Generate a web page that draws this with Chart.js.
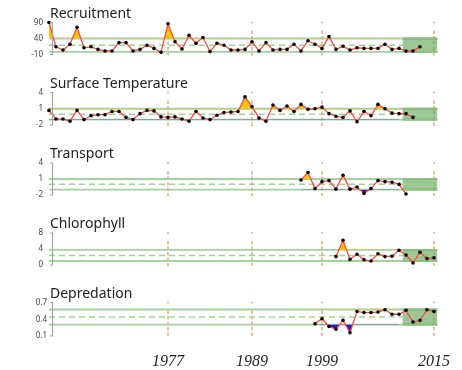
<!DOCTYPE html>
<html>
<head>
<meta charset="utf-8">
<script src="https://cdn.jsdelivr.net/npm/chart.js@4.4.1/dist/chart.umd.min.js"></script>
<style>
  body { margin: 0; background: #fff; }
  #wrap { position: relative; width: 462px; height: 370px; }
  #wrap canvas { position: absolute; left: 0; top: 0; }
</style>
</head>
<body>
<div id="wrap"></div>
<script>
// yearly indicator series, each with its own first year
const recruitmentStart = 1960;
const recruitment = [90, 14, 4, 22, 75, 11, 14, 6, 1, 1, 27, 27, 1, 6, 19, 9, -3, 86, 30, 7,
  50, 25, 43, -1, 25, 19, 4, 4, 6, 30, 1, 27, 4, 6, 6, 22, 1, 33, 22, 9,
  46, 6, 16, 4, 11, 9, 9, 9, 22, 6, 9, 1, 1, 14];

const temperatureStart = 1960;
const temperature = [0.7, -0.9, -0.9, -1.3, 0.7, -1.0, -0.3, -0.1, -0.1, 0.5, 0.5, -0.6, -1.0, 0.1, 0.7, 0.6, -0.5, -0.6, -0.5, -0.9,
  -1.3, 0.5, -0.7, -1.0, -0.2, 0.3, 0.4, 0.5, 3.2, 1.4, -0.7, -1.3, 1.7, 0.7, 1.5, 0.5, 1.8, 0.9, 1.0, 1.3,
  0.1, -0.4, -0.6, 0.6, -1.4, 0.5, -0.3, 1.8, 1.0, 0.2, 0.1, 0.1, -0.6];

const transportStart = 1996;
const transport = [0.8, 2.2, -0.8, 0.5, 0.7, -0.9, 1.7, -0.9, -0.5, -1.7, -0.8, 0.7, 0.5, 0.4, 0.0, -1.8];

const chlorophyllStart = 2001;
const chlorophyll = [2.1, 6.2, 1.4, 2.7, 1.3, 1.0, 2.8, 2.1, 2.2, 3.7, 2.5, 0.5, 3.2, 1.6, 1.8];

const depredationStart = 1998;
const depredation = [0.32, 0.41, 0.27, 0.22, 0.38, 0.16, 0.54, 0.52, 0.52, 0.53, 0.57, 0.49, 0.49, 0.56, 0.35, 0.38, 0.57, 0.54];

const titles = ['Recruitment', 'Surface Temperature', 'Transport', 'Chlorophyll', 'Depredation'];
const starts = [recruitmentStart, temperatureStart, transportStart, chlorophyllStart, depredationStart];
const series = [recruitment, temperature, transport, chlorophyll, depredation];
const yTicks = [[-10, 40, 90], [-2, 1, 4], [-2, 1, 4], [0, 4, 8], [0.1, 0.4, 0.7]];
const bandMean = [19, 0, 0, 2.4, 0.44];
const bandSd = [21, 1, 1, 1.4, 0.135];
const yearMarks = [1977, 1989, 1999, 2015];
const firstYear = 1960;
const lastYear = 2015.5;
const recentFrom = 2010.5;

// layout of the stacked panels
const W = 462, H = 370;
const plotLeft = 49, plotRight = 437.5;
const panelTop = [22.5, 92.5, 163, 233, 302.5];
const panelBottom = [54.5, 125, 195, 265, 336];
const labelPad = [6, 6, 6, 6, 2];
const yearLabelY = 366;

const tan = 'rgba(212,168,112,0.9)';

const panelDecor = {
  id: 'panelDecor',
  beforeDatasetsDraw(chart) {
    const { ctx, chartArea: a, scales: { x } } = chart;
    ctx.save();
    ctx.strokeStyle = tan;
    ctx.fillStyle = tan;
    ctx.lineWidth = 1.5;
    yearMarks.forEach(yr => {
      const px = x.getPixelForValue(yr);
      ctx.fillRect(px - 0.8, a.top - 0.8, 1.6, 1.6);
      ctx.setLineDash([3.5, 2]);
      ctx.beginPath();
      ctx.moveTo(px, a.top + 8);
      ctx.lineTo(px, a.bottom + 1);
      ctx.stroke();
    });
    ctx.restore();
  },
  afterDraw(chart, args, opts) {
    const { ctx, chartArea: a, scales: { x } } = chart;
    ctx.save();
    // bracket-style y axis
    ctx.strokeStyle = '#a3a3a3';
    ctx.lineWidth = 1.2;
    const bx = a.left + 3.5;
    ctx.beginPath();
    ctx.moveTo(bx - 2.5, a.top);
    ctx.lineTo(bx, a.top);
    ctx.lineTo(bx, a.bottom);
    ctx.lineTo(bx - 2.5, a.bottom);
    ctx.stroke();
    // panel title
    ctx.fillStyle = '#222';
    ctx.font = '14px "Noto Sans"';
    ctx.textBaseline = 'alphabetic';
    ctx.textAlign = 'left';
    ctx.fillText(opts.text, a.left + 1, a.top - 5);
    // year labels under the bottom panel
    if (opts.years) {
      ctx.font = 'italic 16px "Liberation Serif", "Times New Roman", serif';
      ctx.textAlign = 'center';
      yearMarks.forEach(yr => {
        ctx.fillText(String(yr), x.getPixelForValue(yr), yearLabelY);
      });
    }
    ctx.restore();
  }
};

function toPoints(start, values) {
  return values.map((v, k) => ({ x: start + k, y: v }));
}

function flat(x0, x1, y) {
  return [{ x: x0, y: y }, { x: x1, y: y }];
}

const wrap = document.getElementById('wrap');

titles.forEach((title, i) => {
  const canvas = document.createElement('canvas');
  canvas.width = W;
  canvas.height = H;
  wrap.appendChild(canvas);

  const mean = bandMean[i];
  const hi = mean + bandSd[i];
  const lo = mean - bandSd[i];
  const pts = toPoints(starts[i], series[i]);
  const fillPts = pts.filter(p => p.x < recentFrom);

  new Chart(canvas.getContext('2d'), {
    type: 'line',
    data: {
      datasets: [
        {
          data: pts,
          borderColor: '#ff4646',
          borderWidth: 1.3,
          pointRadius: 1.8,
          pointBackgroundColor: '#000',
          pointBorderWidth: 0,
          fill: false,
          clip: false,
          order: 0
        },
        {
          data: fillPts,
          borderColor: 'transparent',
          borderWidth: 0,
          pointRadius: 0,
          fill: { target: { value: hi }, above: '#ffc400', below: 'rgba(0,0,0,0)' },
          order: 1
        },
        {
          data: fillPts,
          borderColor: 'transparent',
          borderWidth: 0,
          pointRadius: 0,
          fill: { target: { value: lo }, above: 'rgba(0,0,0,0)', below: '#1a1ad6' },
          order: 1
        },
        {
          data: flat(firstYear, lastYear, mean),
          borderColor: 'rgba(160,205,150,0.95)',
          borderDash: [6, 4],
          borderWidth: 1.5,
          pointRadius: 0,
          order: 2
        },
        {
          data: flat(firstYear, lastYear, hi),
          borderColor: 'rgba(150,200,140,0.85)',
          borderWidth: 1.8,
          pointRadius: 0,
          order: 3
        },
        {
          data: flat(firstYear, lastYear, lo),
          borderColor: 'rgba(150,200,140,0.85)',
          borderWidth: 1.8,
          pointRadius: 0,
          order: 3
        },
        {
          data: flat(recentFrom, lastYear, hi),
          borderColor: 'rgba(70,140,60,0.85)',
          backgroundColor: 'rgba(90,160,80,0.6)',
          borderWidth: 1.8,
          pointRadius: 0,
          fill: '+1',
          order: 4
        },
        {
          data: flat(recentFrom, lastYear, lo),
          borderColor: 'rgba(70,140,60,0.85)',
          borderWidth: 1.8,
          pointRadius: 0,
          fill: false,
          order: 4
        }
      ]
    },
    options: {
      responsive: false,
      animation: false,
      events: [],
      layout: {
        padding: { top: panelTop[i], bottom: H - panelBottom[i], left: 0, right: W - plotRight }
      },
      plugins: {
        legend: { display: false },
        tooltip: { enabled: false },
        panelDecor: { text: title, years: i === titles.length - 1 }
      },
      scales: {
        x: {
          type: 'linear',
          min: firstYear,
          max: lastYear,
          display: false
        },
        y: {
          type: 'linear',
          min: yTicks[i][0],
          max: yTicks[i][2],
          afterBuildTicks: s => { s.ticks = yTicks[i].map(v => ({ value: v })); },
          afterFit: s => { s.width = plotLeft; },
          grid: { display: false, drawTicks: false },
          border: { display: false },
          ticks: {
            padding: labelPad[i],
            color: '#444',
            font: { family: '"Noto Sans"', size: 8 },
            callback: v => String(v)
          }
        }
      }
    },
    plugins: [panelDecor]
  });
});
</script>
</body>
</html>
